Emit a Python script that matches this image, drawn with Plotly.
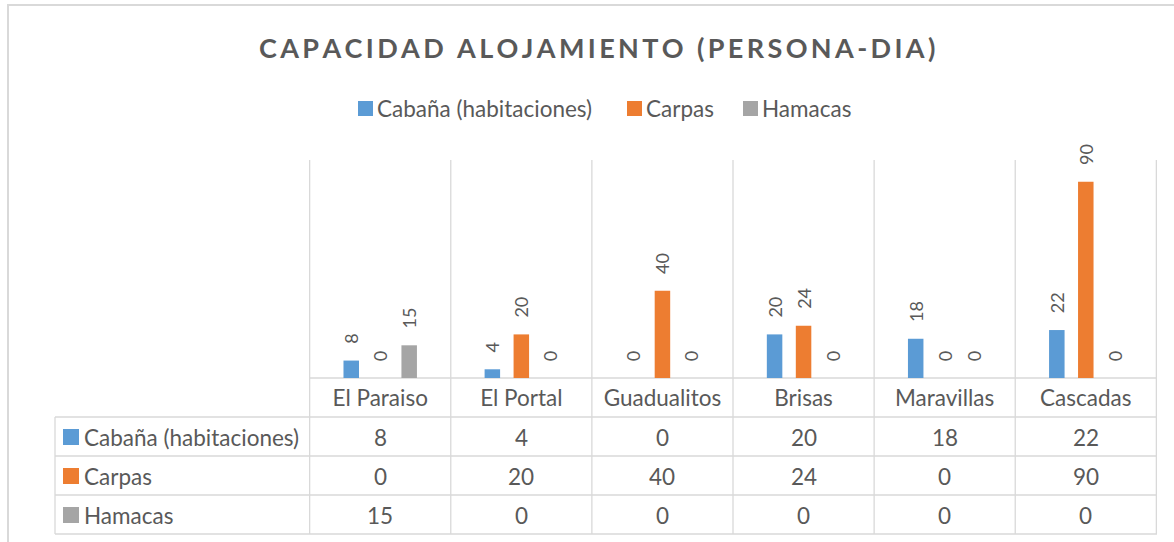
import plotly.graph_objects as go

# ---- data ----
categories = ["El Paraiso", "El Portal", "Guadualitos", "Brisas", "Maravillas", "Cascadas"]
series_names = ["Cabaña (habitaciones)", "Carpas", "Hamacas"]
cabana = [8, 4, 0, 20, 18, 22]
carpas = [0, 20, 40, 24, 0, 90]
hamacas = [15, 0, 0, 0, 0, 0]
series_values = [cabana, carpas, hamacas]
colors = ["#5B9BD5", "#ED7D31", "#A5A5A5"]
title_text = "CAPACIDAD ALOJAMIENTO (PERSONA-DIA)"

# ---- layout geometry (pixels) ----
W, H = 1174, 542
L, R, T, B = 309, 1157, 160, 378
FONT = "Lato"
TXT = "#595959"
GRID = "#D9D9D9"
FS = 22.5


def px(x):
    return (x - L) / (R - L)


def py(y):
    return (B - y) / (B - T)


fig = go.Figure()
for name, vals, col in zip(series_names, series_values, colors):
    fig.add_trace(go.Bar(
        x=categories, y=vals, name=name, marker_color=col, marker_line_width=0,
        texttemplate="\u00a0\u00a0\u00a0%{y}", textposition="outside", textangle=-90,
        textfont=dict(family=FONT, size=18, color=TXT), constraintext="none",
        cliponaxis=False, showlegend=False, hoverinfo="x+y+name",
    ))

shapes = []
annotations = []

# outer chart border
shapes.append(dict(type="rect", xref="paper", yref="paper", x0=px(8), x1=px(1185),
                   y0=py(560), y1=py(5), line=dict(color=GRID, width=2), layer="below"))

# vertical category boundaries (plot + table)
for i in range(len(categories) + 1):
    shapes.append(dict(type="line", xref="x", yref="paper", x0=i - 0.5, x1=i - 0.5,
                       y0=py(534), y1=py(160), line=dict(color=GRID, width=1.3), layer="below"))
# axis line
shapes.append(dict(type="line", xref="paper", yref="paper", x0=0, x1=1, y0=0, y1=0,
                   line=dict(color=GRID, width=1.3), layer="below"))
# table horizontal lines
for yy in [417, 456, 495, 534]:
    shapes.append(dict(type="line", xref="paper", yref="paper", x0=px(55), x1=1,
                       y0=py(yy), y1=py(yy), line=dict(color=GRID, width=1.3), layer="below"))
# table left edge
shapes.append(dict(type="line", xref="paper", yref="paper", x0=px(55), x1=px(55),
                   y0=py(534), y1=py(417), line=dict(color=GRID, width=1.3), layer="below"))

# table rows
row_centers = [437, 476, 515]
for name, vals, col, yc in zip(series_names, series_values, colors, row_centers):
    shapes.append(dict(type="rect", xref="paper", yref="paper", x0=px(63), x1=px(79),
                       y0=py(yc + 8), y1=py(yc - 8), fillcolor=col, line=dict(width=0)))
    annotations.append(dict(xref="paper", yref="paper", x=px(82), y=py(yc), text=name,
                            xanchor="left", yanchor="middle", showarrow=False,
                            font=dict(family=FONT, size=FS, color=TXT)))
    for cat, v in zip(categories, vals):
        annotations.append(dict(xref="x", yref="paper", x=cat, y=py(yc), text=str(v),
                                xanchor="center", yanchor="middle", showarrow=False,
                                font=dict(family=FONT, size=FS, color=TXT)))

# legend (manual)
legend_x = [358, 627, 743]
for name, col, lx in zip(series_names, colors, legend_x):
    shapes.append(dict(type="rect", xref="paper", yref="paper", x0=px(lx), x1=px(lx + 15),
                       y0=py(116), y1=py(101), fillcolor=col, line=dict(width=0)))
    annotations.append(dict(xref="paper", yref="paper", x=px(lx + 17), y=py(108), text=name,
                            xanchor="left", yanchor="middle", showarrow=False,
                            font=dict(family=FONT, size=FS, color=TXT)))

# title
spaced_title = "\u2009".join(title_text)
annotations.append(dict(xref="paper", yref="paper", x=px(597), y=py(47), text="<b>" + spaced_title + "</b>",
                        xanchor="center", yanchor="middle", showarrow=False,
                        font=dict(family=FONT, size=27, color=TXT)))

fig.update_layout(
    width=W, height=H,
    margin=dict(l=L, r=W - R, t=T, b=H - B, pad=0),
    paper_bgcolor="white", plot_bgcolor="white",
    barmode="group", bargap=0.384, bargroupgap=0.465,
    showlegend=False,
    xaxis=dict(type="category", showgrid=False, showline=False, zeroline=False, ticks="",
               ticklabelstandoff=4,
               tickfont=dict(family=FONT, size=FS, color=TXT), fixedrange=True),
    yaxis=dict(range=[0, 100], visible=False, showgrid=False, zeroline=False, fixedrange=True),
    shapes=shapes, annotations=annotations,
)

fig.write_html("out.html", config={"displayModeBar": False},
               post_script="document.body.style.margin='0';document.body.style.overflow='hidden';")
